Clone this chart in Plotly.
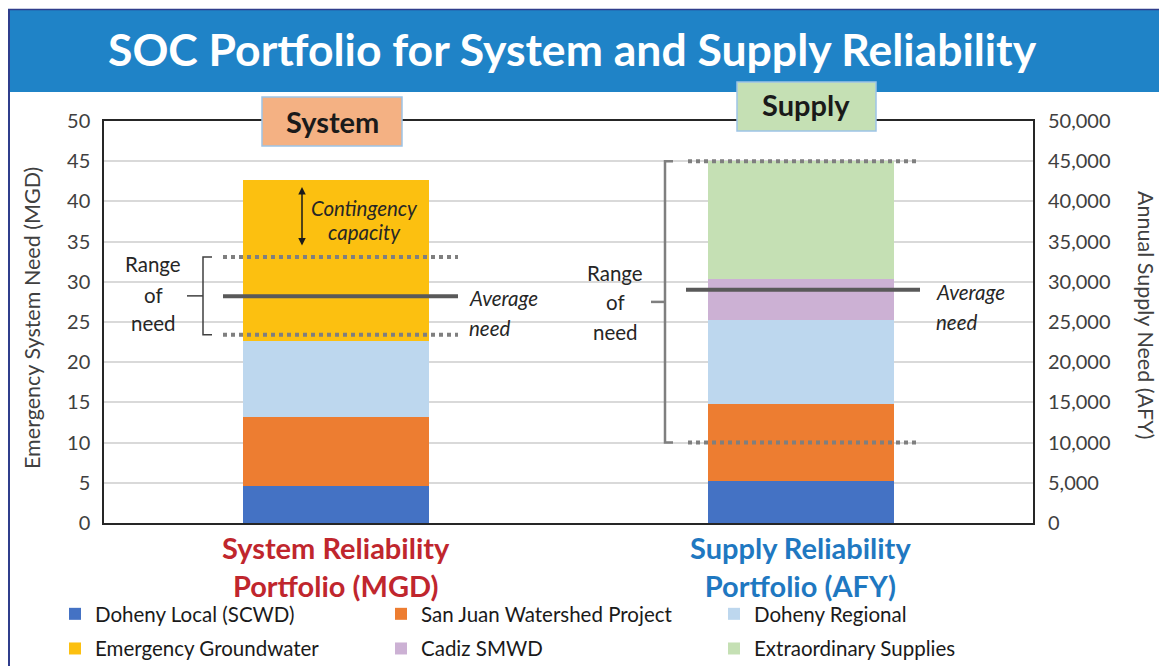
import plotly.graph_objects as go

# ---------------- data ----------------
categories = ["System", "Supply"]
category_labels = ["System Reliability<br>Portfolio (MGD)", "Supply Reliability<br>Portfolio (AFY)"]
category_colors = ["#c0262d", "#1f78c1"]

series = ["Doheny Local (SCWD)", "San Juan Watershed Project", "Doheny Regional",
          "Emergency Groundwater", "Cadiz SMWD", "Extraordinary Supplies"]
series_colors = ["#4472c4", "#ed7d31", "#bdd7ee", "#fcc010", "#ccb1d4", "#c5e0b4"]

system_mgd = [4.6, 8.6, 9.4, 20.1, 0, 0]          # MGD, left axis
supply_afy = [5200, 9600, 10400, 0, 5200, 14600]  # AFY, right axis

system_range = [23.4, 33.1]
system_avg = 28.2
supply_range = [10000, 45000]
supply_avg = 29000

left_ticks = [0, 5, 10, 15, 20, 25, 30, 35, 40, 45, 50]
right_ticks = [0, 5000, 10000, 15000, 20000, 25000, 30000, 35000, 40000, 45000, 50000]
right_tick_labels = [f"{v:,}" for v in right_ticks]

# ---------------- layout helpers (page pixel coords; page body has an 8px margin) ----------------
OFF = 8
PAGE_W, PAGE_H = 1167, 666
W, H = PAGE_W - OFF, PAGE_H - OFF
PL, PR, PT, PB = 104, 1033, 121, 523          # plot area in page pixels
L, R, T, B = PL - OFF, W - (PR - OFF), PT - OFF, H - (PB - OFF)
PW = PR - PL
PH = PB - PT
FONT = "Lato"


def px(x):
    return (x - PL) / PW


def py(y):
    return (PB - y) / PH


def cx(x):
    return (x - OFF) / W


def cy(y):
    return 1 - (y - OFF) / H


fig = go.Figure()

legend_ids = ["legend", "legend2", "legend3"]
shown = set()
for i, name in enumerate(series):
    v = system_mgd[i]
    if v:
        fig.add_trace(go.Bar(
            x=[categories[0]], y=[v], name=name, marker=dict(color=series_colors[i], line=dict(width=0)),
            width=0.4, yaxis="y", legendgroup=name, legend=legend_ids[i % 3],
            showlegend=name not in shown, hovertemplate="%{y}<extra>" + name + "</extra>"))
        shown.add(name)
for i, name in enumerate(series):
    v = supply_afy[i]
    if v:
        fig.add_trace(go.Bar(
            x=[categories[1]], y=[v], name=name, marker=dict(color=series_colors[i], line=dict(width=0)),
            width=0.4, yaxis="y2", legendgroup=name, legend=legend_ids[i % 3],
            showlegend=name not in shown, hovertemplate="%{y:,}<extra>" + name + "</extra>"))
        shown.add(name)

shapes = []
# banner
shapes.append(dict(type="rect", xref="paper", yref="paper", x0=px(8), x1=px(1170), y0=py(92), y1=py(10),
                   fillcolor="#1f83c7", line=dict(width=0), layer="above"))
shapes.append(dict(type="line", xref="paper", yref="paper", x0=px(8), x1=px(1170), y0=py(9.5), y1=py(9.5),
                   line=dict(color="#2f3d8c", width=1.5)))
shapes.append(dict(type="line", xref="paper", yref="paper", x0=px(9), x1=px(9), y0=py(9), y1=py(670),
                   line=dict(color="#2f3d8c", width=2)))
# label boxes
shapes.append(dict(type="rect", xref="paper", yref="paper", x0=px(262), x1=px(402), y0=py(146), y1=py(97),
                   fillcolor="#f4b183", line=dict(color="#9dc3e6", width=1.5)))
shapes.append(dict(type="rect", xref="paper", yref="paper", x0=px(737), x1=px(876), y0=py(131), y1=py(82),
                   fillcolor="#c5e0b4", line=dict(color="#9dc3e6", width=1.5)))

# system range of need
for yv in system_range:
    shapes.append(dict(type="line", xref="paper", yref="y", x0=px(223), x1=px(458), y0=yv, y1=yv,
                       line=dict(color="#7f7f7f", width=4, dash="dot")))
shapes.append(dict(type="line", xref="paper", yref="y", x0=px(223), x1=px(458), y0=system_avg, y1=system_avg,
                   line=dict(color="#595959", width=4)))
xv, xh, xm = px(203), px(212), px(187)
shapes.append(dict(type="path", xref="paper", yref="y",
                   path=f"M {xh},{system_range[1]} L {xv},{system_range[1]} L {xv},{system_range[0]} L {xh},{system_range[0]}",
                   line=dict(color="#404040", width=1.5)))
ymid = sum(system_range) / 2
shapes.append(dict(type="line", xref="paper", yref="y", x0=xm, x1=xv, y0=ymid, y1=ymid,
                   line=dict(color="#404040", width=1.5)))

# supply range of need
for yv in supply_range:
    shapes.append(dict(type="line", xref="paper", yref="y2", x0=px(688), x1=px(920), y0=yv, y1=yv,
                       line=dict(color="#7f7f7f", width=4, dash="dot")))
shapes.append(dict(type="line", xref="paper", yref="y2", x0=px(686), x1=px(920), y0=supply_avg, y1=supply_avg,
                   line=dict(color="#595959", width=4)))
xv, xh, xm = px(665), px(673), px(651)
shapes.append(dict(type="path", xref="paper", yref="y2",
                   path=f"M {xh},{supply_range[1]} L {xv},{supply_range[1]} L {xv},{supply_range[0]} L {xh},{supply_range[0]}",
                   line=dict(color="#7f7f7f", width=2.5)))
ymid = sum(supply_range) / 2
shapes.append(dict(type="line", xref="paper", yref="y2", x0=xm, x1=xv, y0=ymid, y1=ymid,
                   line=dict(color="#7f7f7f", width=2.5)))

ann = []


def text(x, y, s, size=20.5, color="#262626", bold=False, italic=False, xanchor="center", angle=0):
    if bold:
        s = f"<b>{s}</b>"
    if italic:
        s = f"<i>{s}</i>"
    ann.append(dict(xref="paper", yref="paper", x=px(x), y=py(y), text=s, showarrow=False,
                    xanchor=xanchor, yanchor="middle", textangle=angle,
                    font=dict(family=FONT, size=size, color=color)))


text(572, 49, "SOC Portfolio for System and Supply Reliability", size=44.5, color="white", bold=True)
text(332, 121, "System", size=29, color="#1a1a1a", bold=True)
text(806, 105, "Supply", size=29, color="#1a1a1a", bold=True)

text(364, 208, "Contingency", italic=True)
text(364, 232, "capacity", italic=True)
ann.append(dict(xref="paper", yref="paper", x=px(302), y=py(187), ax=0, ay=60, text="", showarrow=True,
                arrowhead=2, startarrowhead=2, arrowside="end+start", arrowsize=1, arrowwidth=1.5,
                arrowcolor="#1a1a1a"))

text(153, 264, "Range")
text(153, 295, "of")
text(153, 323, "need")
text(467, 298, "Average", italic=True, xanchor="left")
text(467, 328, "need", italic=True, xanchor="left")

text(615, 273, "Range")
text(615, 302, "of")
text(615, 332, "need")
text(934, 292, "Average", italic=True, xanchor="left")
text(934, 322, "need", italic=True, xanchor="left")

# axis titles
text(32, 318, "Emergency System Need (MGD)", size=21.5, color="#404040", angle=-90)
text(1146, 315, "Annual Supply Need (AFY)", size=21.5, color="#404040", angle=90)

# category labels
for cat, lab, col in zip(categories, category_labels, category_colors):
    ann.append(dict(xref="x", yref="paper", x=cat, y=py(566), text=f"<b>{lab}</b>", showarrow=False,
                    xanchor="center", yanchor="middle", font=dict(family=FONT, size=29, color=col)))

legend_common = dict(orientation="v", yanchor="top", xanchor="left", traceorder="grouped",
                     xref="container", yref="container",
                     font=dict(family=FONT, size=20.5, color="#1a1a1a"), bgcolor="rgba(0,0,0,0)",
                     tracegroupgap=5, itemclick=False, itemdoubleclick=False)

fig.update_layout(
    width=W, height=H,
    margin=dict(l=L, r=R, t=T, b=B, autoexpand=False),
    paper_bgcolor="white", plot_bgcolor="white",
    barmode="stack",
    font=dict(family=FONT, color="#404040"),
    xaxis=dict(type="category", categoryorder="array", categoryarray=categories, range=[-0.5, 1.5],
               showticklabels=False, ticks="", showline=True, mirror=True, linecolor="#262626",
               linewidth=1.5, showgrid=False, fixedrange=True),
    yaxis=dict(range=[0, 50], tickvals=left_ticks, showgrid=True, gridcolor="#d9d9d9", gridwidth=1.5,
               showline=True, mirror=True, linecolor="#262626", linewidth=1.5, zeroline=False, ticks="",
               ticklabelstandoff=8, tickfont=dict(family=FONT, size=20, color="#404040"), fixedrange=True),
    yaxis2=dict(range=[0, 50000], overlaying="y", side="right", tickvals=right_ticks, ticktext=right_tick_labels,
                showgrid=False, showline=False, zeroline=False, ticks="", ticklabelstandoff=14,
                tickfont=dict(family=FONT, size=20, color="#404040"), fixedrange=True),
    legend=dict(x=cx(55), y=cy(594), **legend_common),
    legend2=dict(x=cx(381), y=cy(594), **legend_common),
    legend3=dict(x=cx(714), y=cy(594), **legend_common),
    shapes=shapes,
    annotations=ann,
    showlegend=True,
)

fig.write_html("out.html")
